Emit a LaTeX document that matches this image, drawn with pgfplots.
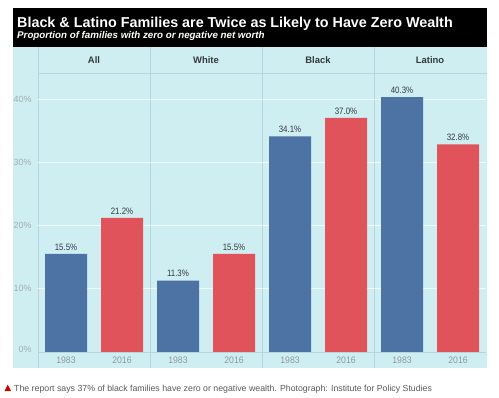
\documentclass[border=0pt]{standalone}
\usepackage{fontspec}
\setmainfont{Liberation Sans}
\newfontfamily\narrowfont[FakeStretch=0.85]{Liberation Sans}
\newfontfamily\yearfont[FakeStretch=0.92]{Liberation Sans}
\usepackage{pgfplots}
\pgfplotsset{compat=1.18}
\definecolor{bgcyan}{HTML}{CFEEF2}
\definecolor{sepline}{HTML}{B5D6DB}
\definecolor{barblue}{HTML}{4D73A4}
\definecolor{barred}{HTML}{E0535A}
\definecolor{ticktext}{HTML}{A3AEB2}
\definecolor{yeartext}{HTML}{8E9A9E}
\definecolor{labtext}{HTML}{333A3D}
\definecolor{captext}{HTML}{5A5A5A}
\definecolor{capred}{HTML}{C70000}
\begin{document}
\begin{tikzpicture}[x=1bp,y=1bp]
\path[use as bounding box, fill=white] (0,0) rectangle (499,397);
% title box
\fill[black] (13,350) rectangle (487,389);
\node[anchor=base west, inner sep=0, text=white, font=\fontsize{14.4}{16}\selectfont\bfseries] at (17,370) {Black \& Latino Families are Twice as Likely to Have Zero Wealth};
\node[anchor=base west, inner sep=0, text=white, font=\fontsize{9.8}{10}\selectfont\bfseries\itshape] at (17,359) {Proportion of families with zero or negative net worth};
% chart background
\fill[bgcyan] (13,29) rectangle (487,350);
\draw[sepline, line width=0.6bp] (38,324) -- (487,324);
\foreach \xx in {38,150,262,374} {\draw[sepline, line width=0.6bp] (\xx,29) -- (\xx,350);}
\foreach \xx/\lab in {94/All,206/White,318/Black,430/Latino} {
  \node[text=labtext, font=\fontsize{9.5}{10}\selectfont\bfseries] at (\xx,336.5) {\lab};
}
\begin{axis}[
  at={(38bp,45bp)}, anchor=south west,
  scale only axis, width=448bp, height=279bp,
  xmin=-0.5, xmax=7.5, ymin=0, ymax=44.1,
  axis line style={draw=none},
  /pgf/number format/assume math mode=true,
  xtick={0,1,2,3,4,5,6,7},
  xticklabels={1983,2016,1983,2016,1983,2016,1983,2016},
  ytick={0,10,20,30,40},
  yticklabels={{\raisebox{5bp}{0\%}},10\%,20\%,30\%,40\%},
  major tick length=0pt,
  xticklabel style={text=yeartext, font=\yearfont\fontsize{9.5}{10}\selectfont, yshift=-1bp},
  yticklabel style={text=ticktext, font=\fontsize{9}{10}\selectfont, xshift=-3bp},
  ymajorgrids, grid style={white, opacity=0.7, line width=0.8bp},
  nodes near coords={\pgfmathprintnumber[fixed,precision=1,fixed zerofill,assume math mode=true]{\pgfplotspointmeta}\%},
  every node near coord/.append style={text=labtext, font=\narrowfont\fontsize{9.3}{10}\selectfont},
  clip=false,
]
\addplot[ybar, bar width=42bp, bar shift=0pt, fill=barblue, draw=none] coordinates {(0,15.5) (2,11.3) (4,34.1) (6,40.3)};
\addplot[ybar, bar width=42bp, bar shift=0pt, fill=barred, draw=none] coordinates {(1,21.2) (3,15.5) (5,37.0) (7,32.8)};
\draw[sepline, line width=0.6bp] (axis cs:-0.5,0) -- (axis cs:7.5,0);
\end{axis}
% caption
\fill[capred] (4.5,6) -- (11,6) -- (7.75,12.5) -- cycle;
\node[anchor=base west, inner sep=0, text=captext, font=\fontsize{8.8}{10}\selectfont] at (14,5.3) {The report says 37\% of black families have zero or negative wealth. Photograph: Institute for Policy Studies};
\end{tikzpicture}
\end{document}
